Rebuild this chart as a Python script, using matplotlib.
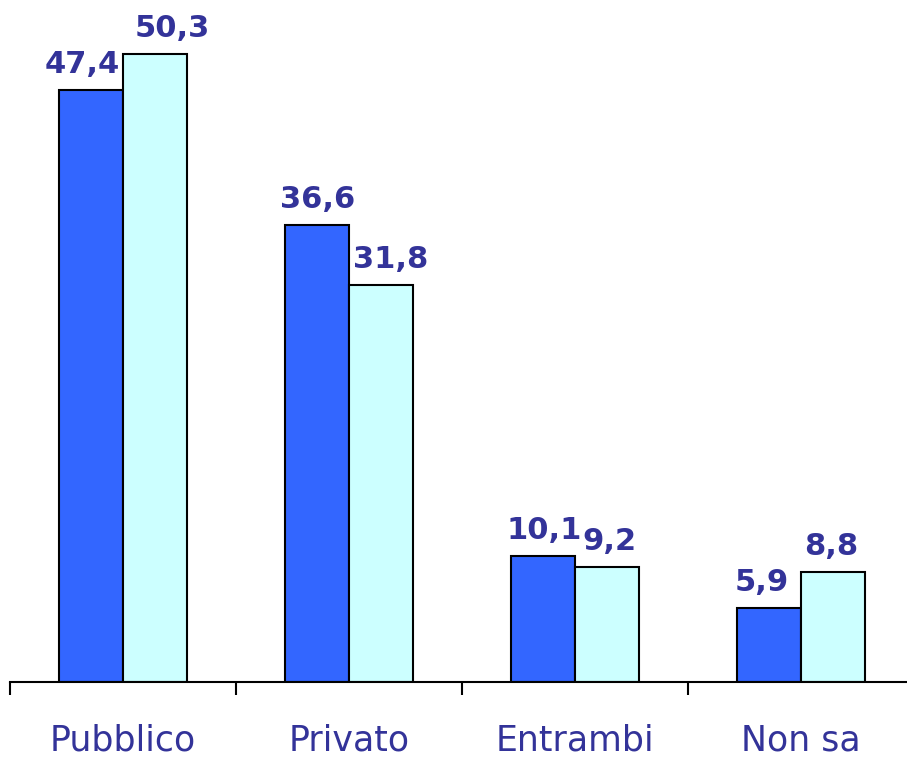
import matplotlib
matplotlib.use("Agg")
import matplotlib.pyplot as plt
import numpy as np

categories = ["Pubblico", "Privato", "Entrambi", "Non sa"]
series_a = [47.4, 36.6, 10.1, 5.9]
series_b = [50.3, 31.8, 9.2, 8.8]
labels_a = ["47,4", "36,6", "10,1", "5,9"]
labels_b = ["50,3", "31,8", "9,2", "8,8"]

W, H = 907, 759
fig = plt.figure(figsize=(W/100, H/100), dpi=100)
ax = fig.add_axes([10/W, 1-682/H, 904/W, 682/H])

x = np.arange(len(categories))
bw = 0.285
navy = "#333399"
ax.bar(x - bw/2, series_a, bw, color="#3366FF", edgecolor="black", linewidth=1.5, zorder=2)
ax.bar(x + bw/2, series_b, bw, color="#CCFFFF", edgecolor="black", linewidth=1.5, zorder=2)

dx_a = [-9, 1, 1, -7]
dx_b = [17, 9, 2, -2]
for xi, v, t, d in zip(x - bw/2, series_a, labels_a, dx_a):
    ax.annotate(t, (xi, v), xytext=(d, 11), textcoords="offset pixels", ha="center", va="bottom",
                fontsize=22, fontweight="bold", color=navy)
for xi, v, t, d in zip(x + bw/2, series_b, labels_b, dx_b):
    ax.annotate(t, (xi, v), xytext=(d, 11), textcoords="offset pixels", ha="center", va="bottom",
                fontsize=22, fontweight="bold", color=navy)

ax.set_xlim(-0.5, len(categories) - 0.5)
ax.set_ylim(0, 54.6)
for s in ["top", "right", "left"]:
    ax.spines[s].set_visible(False)
ax.spines["bottom"].set_linewidth(1.5)
ax.set_yticks([])
ax.set_xticks(x)
ax.set_xticklabels(categories, fontsize=25, color=navy)
ax.tick_params(axis="x", which="major", length=0, pad=30)
ax.set_xticks(np.arange(-0.5, len(categories), 1.0), minor=True)
ax.tick_params(axis="x", which="minor", length=9, width=1.5, direction="out")
ax.patch.set_alpha(0)

fig.savefig("out.png", dpi=100)
